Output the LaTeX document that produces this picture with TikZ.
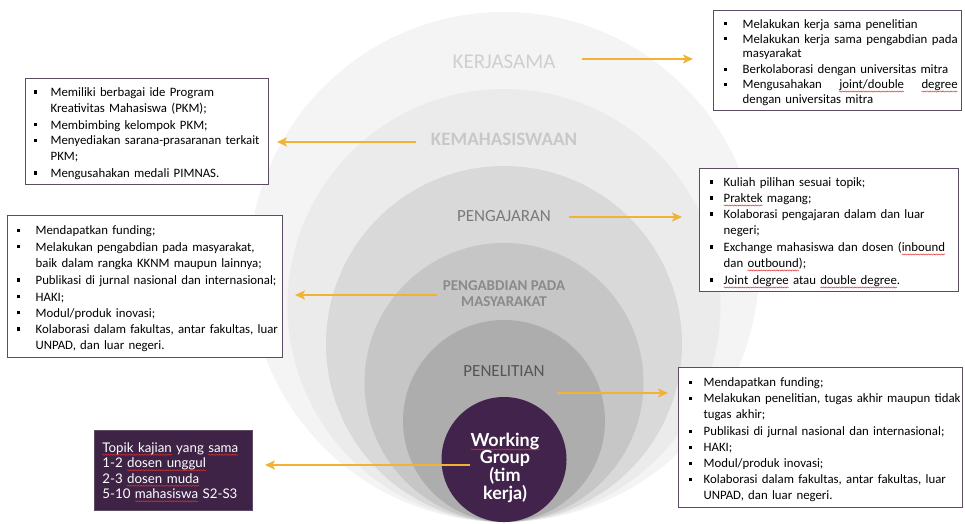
\documentclass[tikz,border=0pt]{standalone}
\usepackage{fontspec}
\setmainfont{Carlito}
\newfontfamily\gill{Lato}
\usetikzlibrary{arrows.meta,decorations.pathmorphing}
\definecolor{cA}{HTML}{F4F4F4}
\definecolor{cB}{HTML}{EBEBEB}
\definecolor{cC}{HTML}{D9D9D9}
\definecolor{cD}{HTML}{C6C6C6}
\definecolor{cE}{HTML}{ADADAD}
\definecolor{wg}{HTML}{42234B}
\definecolor{tbox}{HTML}{3F2346}
\definecolor{boxc}{HTML}{5B4B63}
\definecolor{arrc}{HTML}{F2B233}
\definecolor{tA}{HTML}{CFCFCF}
\definecolor{tB}{HTML}{C8C8C8}
\definecolor{tC}{HTML}{7A7A7A}
\definecolor{tD}{HTML}{8A8A8A}
\definecolor{tE}{HTML}{555555}
\definecolor{wavec}{HTML}{E03030}
\newlength\bhang
\newlength\bpos
\newlength\sqw
\newcommand\bmark{\makebox[\bhang][l]{\hspace{\bpos}\rule[0.22em]{3.4pt}{3.4pt}}}
% ragged-right bullet item (lines broken by hand)
\newcommand\bitem[1]{\par\noindent\bmark\parbox[t]{\dimexpr\linewidth-\bhang+40pt\relax}{\raggedright\strut#1\strut}\par}
% justified bullet item
\newcommand\jitem[1]{\par\noindent\bmark\parbox[t]{\dimexpr\linewidth-\bhang\relax}{\leftskip0pt\rightskip0pt\parfillskip0pt plus 1fil\strut#1\strut}\par}
% red wavy spell-check underline
\newcommand\sq[1]{\setbox0\hbox{#1}\setlength\sqw{\wd0}\rlap{\tikz[overlay,x=1pt,y=1pt,baseline=0pt]\draw[wavec,line width=0.5pt,decorate,decoration={snake,amplitude=0.55pt,segment length=2.6pt}] (0,-2.8) -- (\sqw,-2.8);}\box0\relax}
\begin{document}
\begin{tikzpicture}[x=1pt,y=-1pt,
  lab/.style={inner sep=0pt, align=center},
  arr/.style={draw=arrc, line width=2.8pt, -{Stealth[length=10pt,width=9pt,inset=2.5pt]}},
  boxst/.style={draw=boxc, line width=1.3pt, fill=white, inner xsep=4pt, inner ysep=2pt,
    anchor=north west},
]
\useasboundingbox (0,0) rectangle (965,523);
% nested circles tangent at bottom y=522, centre x=504
\fill[cA] (504,267) circle[radius=255pt];
\fill[cB] (504,305.5) circle[radius=216.5pt];
\fill[cC] (504,344) circle[radius=178pt];
\fill[cD] (504,382.5) circle[radius=139.5pt];
\fill[cE] (504,421) circle[radius=101pt];
\node[circle, fill=wg, minimum size=125pt, inner sep=0pt] (wgc) at (504,459.5) {};

% ring labels
\node[lab, text=tA, font=\fontsize{21}{25}\selectfont] (lkerja) at (504,62) {KERJASAMA};
\node[lab, text=tB, font=\bfseries\fontsize{19}{23}\selectfont] (lkema) at (504,139) {KEMAHASISWAAN};
\node[lab, text=tC, font=\fontsize{17}{21}\selectfont] (lpeng) at (504,216) {PENGAJARAN};
\node[lab, text=tD, font=\bfseries\fontsize{15}{16}\selectfont] (lpkm) at (504,294) {PENGABDIAN PADA\\MASYARAKAT};
\node[lab, text=tE, font=\fontsize{17}{21}\selectfont] (lpen) at (504,371) {PENELITIAN};
\node[lab, text=white, font=\gill\bfseries\fontsize{18}{16.7}\selectfont] (lwg) at (505,468) {\sq{Working}\\Group\\(tim\\kerja)};

% boxes
\node[boxst, text width=240pt, minimum height=100pt, font=\fontsize{12.8}{14.9}\selectfont,
  execute at begin node={\setlength\bhang{25pt}\setlength\bpos{6.3pt}}] (b1) at (713,10)
  {\jitem{Melakukan kerja sama penelitian}
   \jitem{Melakukan\hfill kerja\hfill sama\hfill pengabdian\hfill pada\newline masyarakat}
   \jitem{Berkolaborasi dengan universitas mitra}
   \jitem{Mengusahakan\hfill\sq{joint/double}\hfill\sq{degree}\newline dengan universitas mitra}};

\node[boxst, text width=235pt, minimum height=105pt, font=\fontsize{12.8}{15.8}\selectfont,
  execute at begin node={\setlength\bhang{21pt}\setlength\bpos{4.3pt}}] (b2) at (25,78)
  {\bitem{Memiliki berbagai ide Program\\Kreativitas Mahasiswa (PKM);}
   \bitem{Membimbing kelompok PKM;}
   \bitem{Menyediakan sarana-prasaranan terkait\\PKM;}
   \bitem{Mengusahakan medali PIMNAS.}};

\node[boxst, text width=251pt, minimum height=120pt, font=\fontsize{12.8}{16}\selectfont,
  execute at begin node={\setlength\bhang{20pt}\setlength\bpos{6.3pt}}] (b3) at (699,168)
  {\bitem{Kuliah pilihan sesuai topik;}
   \bitem{\sq{Praktek} magang;}
   \bitem{Kolaborasi pengajaran dalam dan luar\\negeri;}
   \bitem{Exchange mahasiswa dan dosen (\sq{inbound}\\dan \sq{outbound});}
   \bitem{\sq{Joint degree} atau \sq{double degree}.}};

\node[boxst, text width=267pt, minimum height=142pt, font=\fontsize{12.8}{16.3}\selectfont,
  execute at begin node={\setlength\bhang{24pt}\setlength\bpos{5.3pt}}] (b4) at (7,215)
  {\bitem{Mendapatkan funding;}
   \bitem{Melakukan pengabdian pada masyarakat,\\baik dalam rangka KKNM maupun lainnya;}
   \bitem{Publikasi di jurnal nasional dan internasional;}
   \bitem{HAKI;}
   \bitem{Modul/produk inovasi;}
   \bitem{Kolaborasi dalam fakultas, antar fakultas, luar\\UNPAD, dan luar negeri.}};

\node[boxst, text width=276pt, minimum height=140pt, font=\fontsize{12.8}{16}\selectfont,
  execute at begin node={\setlength\bhang{21pt}\setlength\bpos{6.3pt}}] (b5) at (678,367)
  {\bitem{Mendapatkan funding;}
   \bitem{Melakukan penelitian, tugas akhir maupun tidak\\tugas akhir;}
   \bitem{Publikasi di jurnal nasional dan internasional;}
   \bitem{HAKI;}
   \bitem{Modul/produk inovasi;}
   \bitem{Kolaborasi dalam fakultas, antar fakultas, luar\\UNPAD, dan luar negeri.}};

\node[fill=tbox, draw=boxc, line width=0.8pt, anchor=north west, text width=142pt, minimum height=80pt,
  inner xsep=8pt, align=left, text=white, font=\gill\fontsize{13.3}{15.5}\selectfont] (b6) at (94,430)
  {\sq{Topik kajian} yang \sq{sama}\\1-2 \sq{dosen unggul}\\2-3 \sq{dosen muda}\\5-10 \sq{mahasiswa} S2-S3};

% arrows
\coordinate (a1s) at (582,59);  \coordinate (a1e) at (693,59);
\coordinate (a2s) at (416,142); \coordinate (a2e) at (277,142);
\coordinate (a3s) at (569,217); \coordinate (a3e) at (682,217);
\coordinate (a4s) at (437,295); \coordinate (a4e) at (295,295);
\coordinate (a5s) at (557,393); \coordinate (a5e) at (668,393);
\coordinate (a6s) at (470,465); \coordinate (a6e) at (265,465);
\draw[arr] (a1s) -- (a1e);
\draw[arr] (a2s) -- (a2e);
\draw[arr] (a3s) -- (a3e);
\draw[arr] (a4s) -- (a4e);
\draw[arr] (a5s) -- (a5e);
\draw[arr] (a6s) -- (a6e);
\end{tikzpicture}
\end{document}
